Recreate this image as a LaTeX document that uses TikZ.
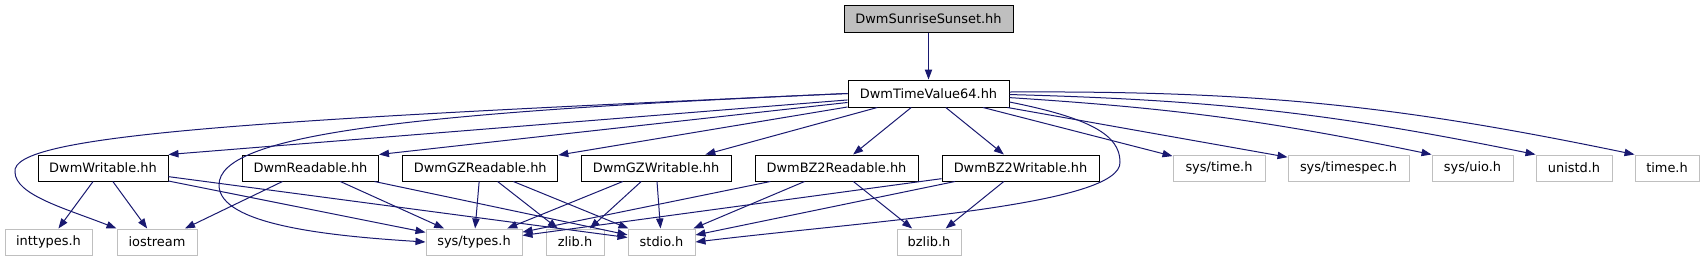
\documentclass[tikz,border=0pt]{standalone}
\usepackage{fontspec}
\setmainfont{DejaVu Sans}
\usepackage{xcolor}
\usetikzlibrary{arrows.meta}
\definecolor{depblue}{HTML}{191970}
\definecolor{extgray}{HTML}{BFBFBF}

\begin{document}
\begin{tikzpicture}[x=0.75pt,y=0.75pt,
  every node/.style={font=\fontsize{9.7}{11}\selectfont,inner sep=0pt,minimum height=19.5pt},
  wd/.style={minimum width=#1*0.75pt},
  doc/.style={draw=black,fill=white,line width=0.75pt},
  ext/.style={draw=extgray,fill=white,line width=0.75pt},
  dep/.style={draw=depblue,line width=0.75pt,-{Triangle[length=7.5pt,width=5.5pt]}}]
  \useasboundingbox (0,0) rectangle (1705,-261);

  % top two files
  \node[doc,fill=extgray,wd=169,minimum height=20.25pt] (sunrise) at (928.5,-18.5) {DwmSunriseSunset.hh};
  \node[doc,wd=161,minimum height=20.25pt] (tv64) at (928.5,-93.5) {DwmTimeValue64.hh};

  % second row
  \node[doc,wd=130] (writable)    at (103,-168)    {DwmWritable.hh};
  \node[doc,wd=136] (readable)    at (310.5,-168)  {DwmReadable.hh};
  \node[doc,wd=155] (gzreadable)  at (480.3,-168)  {DwmGZReadable.hh};
  \node[doc,wd=150] (gzwritable)  at (656,-168)    {DwmGZWritable.hh};
  \node[doc,wd=163] (bz2readable) at (836.5,-168)  {DwmBZ2Readable.hh};
  \node[doc,wd=157] (bz2writable) at (1020.5,-168) {DwmBZ2Writable.hh};
  \node[ext,wd=92]  (systime)     at (1219,-168)   {sys/time.h};
  \node[ext,wd=121] (timespec)    at (1348.5,-168) {sys/timespec.h};
  \node[ext,wd=81]  (uio)         at (1472.5,-168) {sys/uio.h};
  \node[ext,wd=76]  (unistd)      at (1574,-168)   {unistd.h};
  \node[ext,wd=64]  (timeh)       at (1667,-168)   {time.h};

  % bottom row
  \node[ext,wd=87] (inttypes) at (48.5,-242)  {inttypes.h};
  \node[ext,wd=80] (iostream) at (157,-242)   {iostream};
  \node[ext,wd=96] (systypes) at (474,-242)   {sys/types.h};
  \node[ext,wd=58] (zlib)     at (575,-242)   {zlib.h};
  \node[ext,wd=67] (stdio)    at (661.5,-242) {stdio.h};
  \node[ext,wd=64] (bzlib)    at (929,-242)   {bzlib.h};

  \draw[dep] (sunrise) -- (tv64);
  \foreach \t in {writable,readable} \draw[dep] (tv64) -- (\t.north east);
  \foreach \t in {gzreadable,gzwritable,bz2readable,bz2writable,systime,timespec}
    \draw[dep] (tv64) -- (\t);
  \draw[dep] (tv64) to[bend left=4] (uio.north west);
  \draw[dep] (tv64) to[bend left=5] (unistd.north west);
  \draw[dep] (tv64) to[bend left=6] (timeh.north west);
  % long ones round the sides
  \draw[dep] (tv64.west) .. controls (250,-120) and (10,-135) .. (15,-172)
    .. controls (15,-195) and (67,-209) .. (iostream.north west);
  \draw[dep] (tv64.west) .. controls (400,-113) and (219,-135) .. (219,-185)
    .. controls (219,-225) and (330,-236) .. (systypes.west);
  \draw[dep] (tv64.-6) .. controls (1090,-118) and (1120,-135) .. (1120,-162)
    .. controls (1122,-205) and (880,-220) .. (stdio.east);

  \foreach \a/\b in {writable/inttypes,writable/iostream,writable/systypes,writable/stdio,
      readable/iostream,readable/systypes,readable/stdio,
      gzreadable/systypes,gzreadable/zlib,gzreadable/stdio,
      gzwritable/systypes,gzwritable/zlib,gzwritable/stdio,
      bz2readable/systypes,bz2readable/stdio,bz2readable/bzlib,
      bz2writable/systypes,bz2writable/stdio,bz2writable/bzlib}
    \draw[dep] (\a) -- (\b);
\end{tikzpicture}
\end{document}
